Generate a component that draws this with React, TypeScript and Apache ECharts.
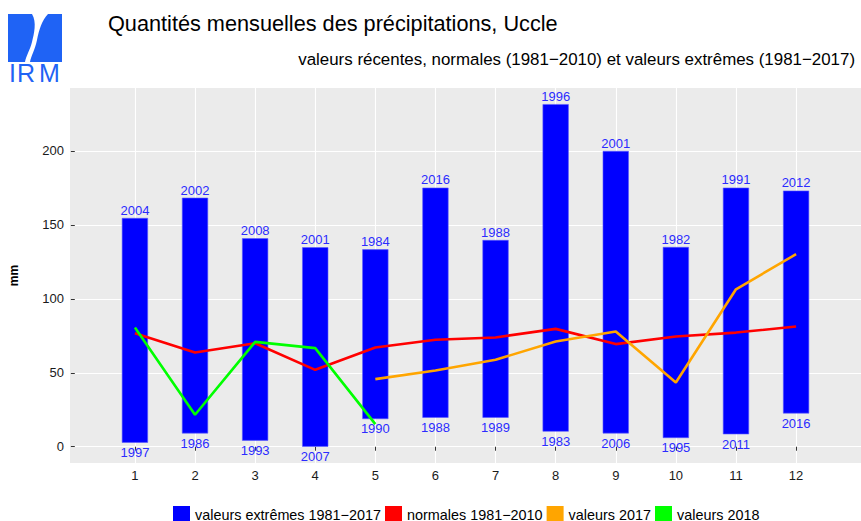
import React, { useEffect, useRef } from "react";
import * as echarts from "echarts";

const months = [1, 2, 3, 4, 5, 6, 7, 8, 9, 10, 11, 12];
const extremeMax = [154.5, 168.2, 140.8, 134.7, 133.3, 175.0, 139.6, 231.5, 199.8, 134.9, 175.0, 173.0];
const extremeMin = [2.9, 9.2, 4.3, 0.2, 18.9, 19.8, 19.8, 10.4, 9.2, 6.1, 8.6, 22.7];
const yearMax = [2004, 2002, 2008, 2001, 1984, 2016, 1988, 1996, 2001, 1982, 1991, 2012];
const yearMin = [1997, 1986, 1993, 2007, 1990, 1988, 1989, 1983, 2006, 1995, 2011, 2016];
const normals = [76.8, 63.7, 70.0, 52.0, 67.1, 72.3, 73.9, 79.7, 69.4, 74.5, 77.2, 81.3];
const months2017 = [5, 6, 7, 8, 9, 10, 11, 12];
const values2017 = [45.7, 51.6, 58.8, 71.2, 77.9, 43.4, 106.5, 130.2];
const months2018 = [1, 2, 3, 4, 5];
const values2018 = [80.6, 21.6, 70.9, 66.7, 15.3];
const yTicks = [0, 50, 100, 150, 200];

const FONT = "'Liberation Sans', Arial, Helvetica, sans-serif";
const LOGO_BLUE = "#1f63f5";
const LABEL_BLUE = "#2b2bff";

const logoPath =
  "M 24 0 L 40 0 C 34 6 31 16 29 26 C 27 36 23 42 22 48 L 17 48 C 18 42 22 36 24 28 C 26 20 29 8 24 0 Z";

let registered = false;
function registerLogo() {
  if (registered) return;
  echarts.graphic.registerShape("logo", echarts.graphic.extendPath(logoPath, {}) as any);
  registered = true;
}

export default function App() {
  const ref = useRef<HTMLDivElement>(null);
  useEffect(() => {
    if (!ref.current) return;
    registerLogo();
    const chart = echarts.init(ref.current, undefined, { renderer: "svg" });
    const barData = months.map((m, i) => [m, extremeMin[i], extremeMax[i], yearMin[i], yearMax[i]]);
    const BAR_W = 0.425;
    const option: any = {
      animation: false,
      backgroundColor: "#ffffff",
      textStyle: { fontFamily: FONT },
      title: [
        {
          text: "Quantités mensuelles des précipitations, Uccle",
          left: 103,
          top: 7,
          textStyle: { fontSize: 21.7, fontWeight: "normal", color: "#000", fontFamily: FONT },
        },
        {
          text: "valeurs récentes, normales (1981−2010) et valeurs extrêmes (1981−2017)",
          right: 1,
          top: 46,
          textStyle: { fontSize: 16.9, fontWeight: "normal", color: "#000", fontFamily: FONT },
        },
      ],
      graphic: [
        { type: "rect", left: 8, top: 14, shape: { x: 0, y: 0, width: 54, height: 48 }, style: { fill: LOGO_BLUE } },
        { type: "logo", x: 8, y: 14, scaleX: 1, scaleY: 1, style: { fill: "#ffffff" } },
        { type: "text", left: 9, top: 60, style: { text: "I", fill: LOGO_BLUE, font: `25px ${FONT}` } },
        { type: "text", left: 17, top: 60, style: { text: "R", fill: LOGO_BLUE, font: `25px ${FONT}` } },
        { type: "text", left: 39, top: 60, style: { text: "M", fill: LOGO_BLUE, font: `25px ${FONT}` } },
      ],
      legend: {
        left: 168,
        top: 501,
        itemWidth: 17,
        itemHeight: 17,
        itemGap: 4,
        icon: "rect",
        textStyle: { fontSize: 14.4, color: "#000", fontFamily: FONT },
        data: [
          { name: "valeurs extrêmes 1981−2017", icon: "rect", itemStyle: { color: "#0000ff" } },
          { name: "normales 1981−2010", icon: "rect", itemStyle: { color: "#ff0000" } },
          { name: "valeurs 2017", icon: "rect", itemStyle: { color: "#ffa500" } },
          { name: "valeurs 2018", icon: "rect", itemStyle: { color: "#00ff00" } },
        ],
      },
      grid: {
        left: 68,
        top: 88,
        right: 0,
        bottom: 58,
        show: true,
        backgroundColor: "#ebebeb",
        borderWidth: 0,
      },
      xAxis: {
        type: "value",
        min: -0.08,
        max: 13.08,
        axisLine: { show: false },
        axisTick: { show: true, length: 4, lineStyle: { color: "#333" }, customValues: months },
        axisLabel: { fontSize: 13, color: "#1a1a1a", margin: 6, customValues: months, fontFamily: FONT },
        splitLine: { show: true, lineStyle: { color: "#ffffff", width: 1.1 } },
      },
      yAxis: {
        type: "value",
        min: -11,
        max: 242.6,
        name: "mm",
        nameLocation: "middle",
        nameRotate: 90,
        nameGap: 50,
        nameTextStyle: { fontSize: 12, fontWeight: "bold", color: "#000", fontFamily: FONT },
        axisLine: { show: false },
        axisTick: { show: true, length: 4, lineStyle: { color: "#333" }, customValues: yTicks },
        axisLabel: { fontSize: 13, color: "#1a1a1a", margin: 6, customValues: yTicks, fontFamily: FONT },
        splitLine: { show: true, lineStyle: { color: "#ffffff", width: 1.1 } },
      },
      series: [
        {
          name: "valeurs extrêmes 1981−2017",
          type: "custom",
          itemStyle: { color: "#0000ff" },
          data: barData,
          encode: { x: 0, y: [1, 2] },
          renderItem: (params: any, api: any) => {
            const x = api.value(0);
            const lo = api.value(1);
            const hi = api.value(2);
            const pTop = api.coord([x, hi]);
            const pBot = api.coord([x, lo]);
            const w = api.size([BAR_W, 0])[0];
            return {
              type: "group",
              children: [
                {
                  type: "rect",
                  shape: { x: pTop[0] - w / 2, y: pTop[1], width: w, height: pBot[1] - pTop[1] },
                  style: { fill: "#0000ff", stroke: "#5a5aff", lineWidth: 0.6 },
                },
                {
                  type: "text",
                  x: pTop[0],
                  y: pTop[1] - 1.5,
                  style: {
                    text: String(api.value(4)),
                    fill: LABEL_BLUE,
                    fontSize: 13,
                    fontFamily: FONT,
                    align: "center",
                    verticalAlign: "bottom",
                  },
                },
                {
                  type: "text",
                  x: pBot[0],
                  y: pBot[1] + 3.5,
                  style: {
                    text: String(api.value(3)),
                    fill: LABEL_BLUE,
                    fontSize: 13,
                    fontFamily: FONT,
                    align: "center",
                    verticalAlign: "top",
                  },
                },
              ],
            };
          },
          z: 2,
        },
        {
          name: "normales 1981−2010",
          type: "line",
          data: months.map((m, i) => [m, normals[i]]),
          symbol: "none",
          lineStyle: { color: "#ff0000", width: 2.6 },
          itemStyle: { color: "#ff0000" },
          z: 3,
        },
        {
          name: "valeurs 2017",
          type: "line",
          data: months2017.map((m, i) => [m, values2017[i]]),
          symbol: "none",
          lineStyle: { color: "#ffa500", width: 2.6 },
          itemStyle: { color: "#ffa500" },
          z: 4,
        },
        {
          name: "valeurs 2018",
          type: "line",
          data: months2018.map((m, i) => [m, values2018[i]]),
          symbol: "none",
          lineStyle: { color: "#00ff00", width: 2.6 },
          itemStyle: { color: "#00ff00" },
          z: 5,
        },
      ],
    };
    chart.setOption(option);
    return () => chart.dispose();
  }, []);
  return <div ref={ref} style={{ width: 861, height: 521, position: "absolute", left: 0, top: 0 }} />;
}
